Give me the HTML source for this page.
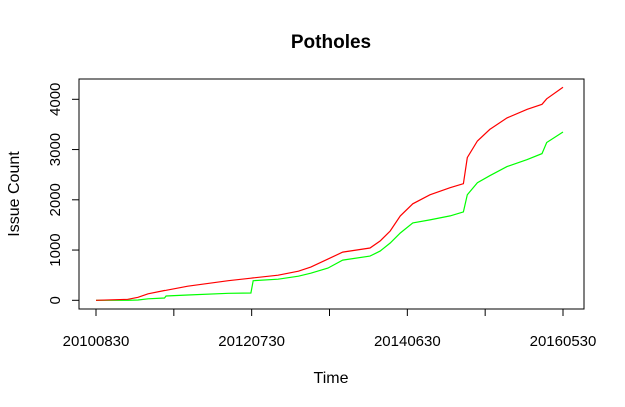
<!DOCTYPE html>
<html><head><meta charset="utf-8"><style>
html,body{margin:0;padding:0;background:#fff;}
svg{display:block;font-family:"Liberation Sans",Arial,sans-serif;}
</style></head><body>
<svg id="chart" width="625" height="407" viewBox="0 0 625 407">
<text x="331" y="48" text-anchor="middle" font-size="19" font-weight="bold">Potholes</text>
<rect x="79" y="79" width="505" height="230" fill="none" stroke="#000" stroke-width="1"/>
<text x="331" y="383" text-anchor="middle" font-size="16">Time</text>
<text transform="translate(19,194) rotate(-90)" text-anchor="middle" font-size="16">Issue Count</text>
<g id="axes"></g>
<g id="series"></g>
</svg>
<script>
const times = [0,4.1,5.4,6.7,8.8,9.0,11.8,17,19.9,20.2,23.4,26,27.6,29.8,31.7,35.2,36.5,37.8,39.1,40.7,42.9,45.5,47.2,47.7,49,50.6,52.8,55.4,57.3,57.9,60];
const redValues = [0,20,60,130,195,200,280,390,440,445,500,580,660,820,960,1040,1180,1380,1680,1920,2100,2240,2320,2840,3170,3400,3630,3800,3900,4010,4240];
const greenValues = [0,0,5,30,45,85,105,140,145,390,420,480,540,640,800,880,980,1140,1340,1540,1600,1680,1760,2100,2340,2480,2660,2800,2920,3140,3350];
const yTicks = [0,1000,2000,3000,4000];
const xTickPositions = [0,10,20,30,40,50,60];
const xTickLabels = ["20100830","","20120730","","20140630","","20160530"];

const NS = "http://www.w3.org/2000/svg";
function xScale(t){ return 96 + t*(467/60); }
function yScale(v){ return 300.3 - v*0.05025; }
const axes = document.getElementById('axes');
const series = document.getElementById('series');
function mk(tag, attrs, parent){ const e=document.createElementNS(NS,tag); for(const k in attrs) e.setAttribute(k,attrs[k]); parent.appendChild(e); return e; }

yTicks.forEach(v=>{
  const y=yScale(v);
  const t=mk('line',{x1:72,x2:79,y1:y,y2:y,stroke:'#000'},axes);
  
  
  const l=mk('text',{transform:`translate(60,${y}) rotate(-90)`,'text-anchor':'middle','font-size':'15'},axes);
  l.textContent=v;
  
  
});
xTickPositions.forEach((p,i)=>{
  const x=xScale(p);
  const t=mk('line',{x1:x,x2:x,y1:309,y2:316,stroke:'#000'},axes);
  
  
  if(xTickLabels[i]){
    const l=mk('text',{x:x,y:346,'text-anchor':'middle','font-size':'15'},axes);
    l.textContent=xTickLabels[i];
    
    
  }
});
function line(vals,color,name){
  const d=vals.map((v,i)=>(i?'L':'M')+xScale(times[i]).toFixed(1)+','+yScale(v).toFixed(1)).join('');
  const p=mk('path',{d:d,fill:'none',stroke:color,'stroke-width':1.2},series);
  
  
}
line(greenValues,'#00ff00','green-series-line');
line(redValues,'#ff0000','red-series-line');
</script>
</body></html>
